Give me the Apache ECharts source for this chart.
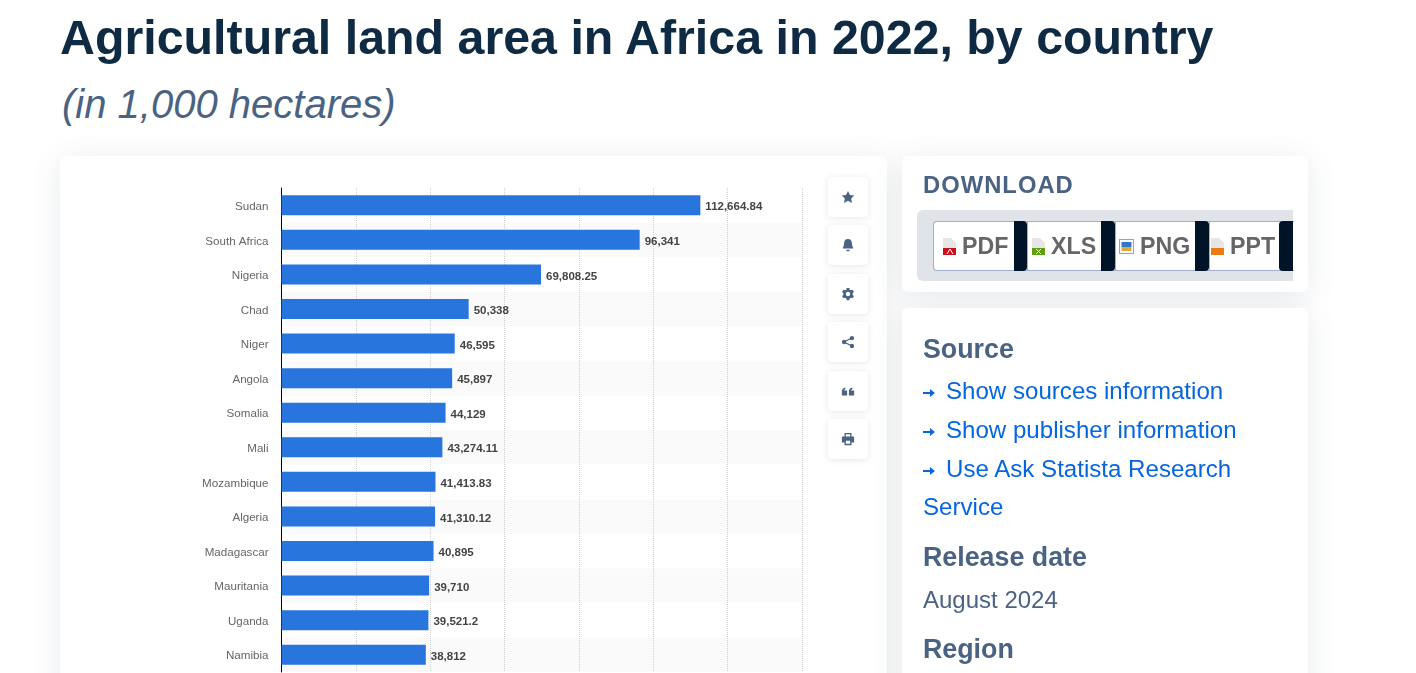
<!DOCTYPE html>
<html>
<head>
<meta charset="utf-8">
<title>Agricultural land area in Africa in 2022, by country</title>
<script src="https://cdn.jsdelivr.net/npm/echarts@6/dist/echarts.min.js"></script>
<style>
html, body { margin: 0; padding: 0; background: #fff; width: 1416px; height: 673px; overflow: hidden; font-family: "Liberation Sans", Arial, sans-serif; }
.abs { position: absolute; white-space: nowrap; }
.card { position: absolute; background: #fff; border-radius: 6px; box-shadow: 0 4px 30px rgba( 60, 80, 110, 0.12 ); }
h1 { position: absolute; left: 60px; top: 9px; margin: 0; font-size: 48.35px; line-height: 56px; font-weight: bold; color: #0f2a43; white-space: nowrap; }
h2 { position: absolute; left: 62px; top: 80px; margin: 0; font-size: 40px; line-height: 48px; font-weight: normal; font-style: italic; color: #4a6382; white-space: nowrap; }
#chart { position: absolute; left: 60px; top: 156px; width: 827px; height: 517px; }
.tool { position: absolute; left: 828px; width: 40px; height: 40px; background: #fff; border-radius: 4px; box-shadow: 0 1px 6px rgba( 60, 80, 110, 0.14 ); }
.tool svg { position: absolute; left: 13px; top: 13px; width: 14px; height: 14px; fill: #4a6382; }
.head { position: absolute; left: 923px; font-size: 26.8px; line-height: 30px; font-weight: bold; color: #4a6382; }
.link { position: absolute; left: 923px; font-size: 24.1px; line-height: 30px; color: #0666e0; white-space: nowrap; }
.link svg { position: absolute; left: 0; top: 13px; width: 12px; height: 8px; fill: #0666e0; }
.link span { position: absolute; left: 23px; top: 0; }
.txt { position: absolute; left: 923px; font-size: 24px; line-height: 30px; color: #4a6382; }
.dl { position: absolute; top: 221px; height: 48px; background: #fff; border: 1px solid #9fb0c8; border-right: 0; border-radius: 4px 0 0 4px; font-size: 23.2px; line-height: 48px; font-weight: bold; color: #666; }
.dl b { position: absolute; top: -1px; height: 50px; background: #001327; border-radius: 0 4px 4px 0; }
.dl svg { position: absolute; left: 8px; top: 16px; width: 15px; height: 17px; }
.dl span { position: absolute; left: 28px; top: 0; }
</style>
</head>
<body>
<h1>Agricultural land area in Africa in 2022, by country</h1>
<h2>(in 1,000 hectares)</h2>

<div class="card" style="left:60px;top:156px;width:827px;height:560px;"></div>
<div id="chart"></div>

<div class="tool" style="top:177px;"><svg viewBox="0 0 16 16"><path d="M8 1l2.200 4.600 5 .7-3.600 3.500.9 5L8 12.400l-4.500 2.400.9-5L.8 6.300l5-.7z"/></svg></div>
<div class="tool" style="top:225px;"><svg viewBox="0 0 16 16"><path d="M8 1c3 0 4.500 2.300 4.500 5 0 3.500 1.500 4.500 1.500 6H2c0-1.500 1.500-2.500 1.500-6C3.500 3.300 5 1 8 1zM6 13.500h4C10 14.600 9 15.500 8 15.500S6 14.600 6 13.500z"/></svg></div>
<div class="tool" style="top:274px;"><svg viewBox="0 0 16 16"><path fill-rule="evenodd" d="M6.500 1h3l.4 2 1.500.8 1.900-.7 1.500 2.600-1.500 1.300v2l1.500 1.300-1.500 2.600-1.900-.7-1.500.8-.4 2h-3l-.4-2-1.500-.8-1.900.7L1.200 10.300l1.500-1.300V7L1.200 5.700l1.500-2.600 1.900.7 1.500-.8zM8 5.500a2.500 2.500 0 1 0 0 5 2.500 2.500 0 0 0 0-5z"/></svg></div>
<div class="tool" style="top:322px;"><svg viewBox="0 0 16 16"><circle cx="12.500" cy="3.500" r="2.500"/><circle cx="12.500" cy="12.500" r="2.500"/><circle cx="3.500" cy="8" r="2.500"/><path d="M3 7.300l9-4.500.7 1.300-9 4.500zM3.700 7.400l9 4.500-.7 1.300-9-4.500z"/></svg></div>
<div class="tool" style="top:371px;"><svg viewBox="0 0 16 16"><path d="M1 8.500C1 6 2.500 4.500 5 4v2C4 6.200 3.500 6.800 3.400 7.500H7V13H1zM9 8.500C9 6 10.500 4.500 13 4v2c-1 .2-1.500.8-1.600 1.500H15V13H9z"/></svg></div>
<div class="tool" style="top:419px;"><svg viewBox="0 0 16 16"><path fill-rule="evenodd" d="M4 1h8v4h2c.6 0 1 .4 1 1v6h-3v3H4v-3H1V6c0-.6.4-1 1-1h2zM5.500 2.500V5h5V2.500zM5.500 10v3.500h5V10z"/></svg></div>

<!-- download -->
<div class="card" style="left:902px;top:156px;width:406px;height:136px;"></div>
<div class="abs" style="left:923px;top:170px;font-size:23.8px;line-height:30px;font-weight:bold;letter-spacing:1px;color:#4a6382;">DOWNLOAD</div>
<div class="abs" style="left:917px;top:210px;width:376px;height:71px;background:#e0e3e7;border-radius:6px 0 0 6px;"></div>

<div class="dl" style="left:933px;width:94px;"><svg viewBox="0 0 15 17"><path fill="#e6e6e6" d="M1 0h8l5 5v12H1z"/><path fill="#c8101a" d="M1 10h13v7H1z"/><path fill="none" stroke="#fff" d="M5 16l3-5 3 5"/></svg><span>PDF</span><b style="left:80px;width:13px;"></b></div>
<div class="dl" style="left:1027px;width:88px;border-radius:0;"><svg style="left:3px;" viewBox="0 0 15 17"><path fill="#e6e6e6" d="M1 0h8l5 5v12H1z"/><path fill="#5f9e12" d="M1 10h13v7H1z"/><path fill="none" stroke="#fff" d="M5 11l5 5M10 11l-5 5"/></svg><span style="left:23px;">XLS</span><b style="left:73px;width:14px;"></b></div>
<div class="dl" style="left:1115px;width:94px;border-radius:0;"><svg style="left:3px;" viewBox="0 0 15 17"><path fill="#9aa3ad" d="M0 1h15v15H0z"/><path fill="#fff" d="M1 2h13v13H1z"/><path fill="#2f79c8" d="M2.500 4h10v5h-10z"/><path fill="#e0a93a" d="M2.500 9h10v4h-10z"/></svg><span style="left:24px;">PNG</span><b style="left:79px;width:14px;"></b></div>
<div class="dl" style="left:1209px;width:84px;border-radius:0;"><svg style="left:0;" viewBox="0 0 15 17"><path fill="#e6e6e6" d="M1 0h8l5 5v12H1z"/><path fill="#ee7a12" d="M1 10h13v7H1z"/></svg><span style="left:20px;">PPT</span><b style="left:69px;width:14px;border-radius:4px 0 0 4px;"></b></div>

<!-- source -->
<div class="card" style="left:902px;top:308px;width:406px;height:420px;"></div>
<div class="head" style="top:334px;">Source</div>
<div class="link" style="top:376px;"><svg viewBox="0 0 12 8"><path d="M0 3h7V0l5 4-5 4V5H0z"/></svg><span>Show sources information</span></div>
<div class="link" style="top:415px;"><svg viewBox="0 0 12 8"><path d="M0 3h7V0l5 4-5 4V5H0z"/></svg><span>Show publisher information</span></div>
<div class="link" style="top:454px;"><svg viewBox="0 0 12 8"><path d="M0 3h7V0l5 4-5 4V5H0z"/></svg><span>Use Ask Statista Research</span></div>
<div class="link" style="top:492px;">Service</div>
<div class="head" style="top:542px;">Release date</div>
<div class="txt" style="top:585px;">August 2024</div>
<div class="head" style="top:634px;">Region</div>

<script>
//国家 + 面积
var categories = [ 'Sudan', 'South Africa', 'Nigeria', 'Chad', 'Niger', 'Angola', 'Somalia', 'Mali', 'Mozambique', 'Algeria', 'Madagascar', 'Mauritania', 'Uganda', 'Namibia' ];
var areaValues = [ 112664.84, 96341, 69808.25, 50338, 46595, 45897, 44129, 43274.11, 41413.83, 41310.12, 40895, 39710, 39521.2, 38812 ];

var myChart = echarts.init( document.getElementById( 'chart' ) );
myChart.setOption({
	animation: false,
	textStyle: { fontFamily: '"Liberation Sans", Arial, sans-serif' },
	grid: { left: 221.5, top: 32, width: 520.5, height: 484 },
	xAxis: {
		type: 'value',
		min: 0,
		max: 140000,
		interval: 20000,
		axisLine: { show: false },
		axisTick: { show: false },
		axisLabel: { show: false },
		splitLine: { show: true, lineStyle: { color: '#d0d0d0', type: 'dotted', width: 1 } }
	},
	yAxis: {
		type: 'category',
		inverse: true,
		data: categories,
		axisLine: { show: true, lineStyle: { color: '#000', width: 1 } },
		axisTick: { show: false },
		axisLabel: { color: '#666', fontSize: 11.6, margin: 13, verticalAlign: 'top', lineHeight: 3 },
		splitLine: { show: false },
		splitArea: { show: true, areaStyle: { color: [ 'rgba(255,255,255,0)', 'rgba(100,100,100,0.035)' ] } }
	},
	series: [
		{
			type: 'bar',
			data: areaValues,
			barWidth: 20,
			itemStyle: { color: '#2975de' },
			label: {
				show: true,
				position: 'right',
				distance: 5,
				offset: [ 0, 2 ],
				color: '#444',
				fontSize: 11.5,
				fontWeight: 'bold',
				formatter: function( p ){
					return p.value.toLocaleString( 'en-US', { maximumFractionDigits: 2 } );
				}
			}
		}
	]
});
</script>
</body>
</html>
